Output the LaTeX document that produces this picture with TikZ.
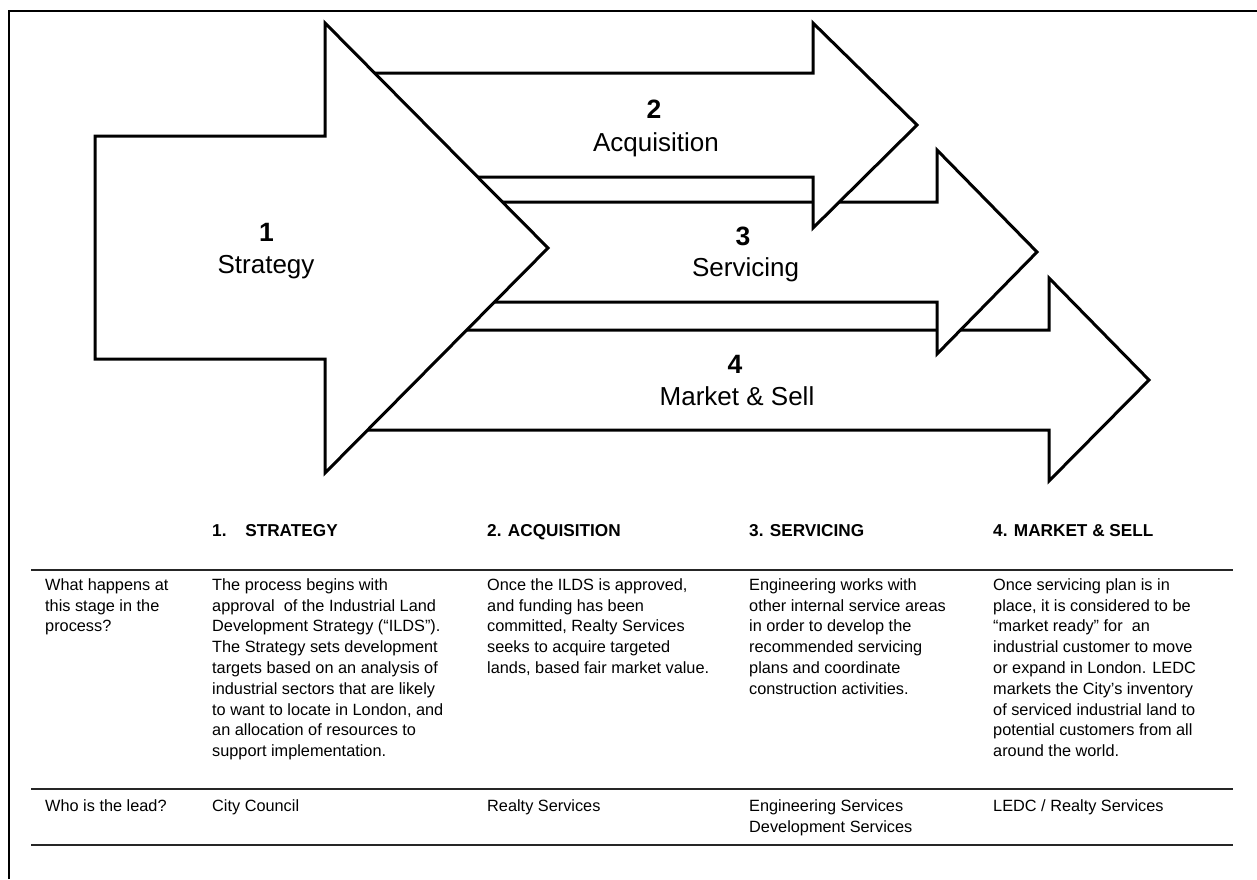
\documentclass[tikz,border=0pt]{standalone}
\usepackage{fontspec}
\setmainfont{Liberation Sans}
\begin{document}
\begin{tikzpicture}[x=1pt,y=-1pt,
  stage/.style={draw=black, line width=3pt, fill=white, line join=miter},
  numlabel/.style={font=\fontsize{26.5}{32}\selectfont\bfseries, anchor=base, inner sep=0pt},
  namelabel/.style={font=\fontsize{26}{32}\selectfont, anchor=base, inner sep=0pt},
  headcell/.style={font=\fontsize{17.2}{20.8}\selectfont\bfseries, anchor=base west, inner sep=0pt},
  cell/.style={font=\fontsize{16.3}{20.8}\selectfont, align=left, anchor=north west, inner sep=0pt},
  tablerule/.style={line width=1.6pt, draw=black!85},
  frameline/.style={line width=2pt, draw=black}
]
\useasboundingbox (0,0) rectangle (1257,879);

% outer frame (left and top edges)
\draw[frameline] (9,879) -- (9,10.5) -- (1257,10.5);

% stage arrows, back to front
% 4 Market & Sell
\draw[stage] (340,330) -- (1049,330) -- (1049,278) -- (1149,380)
  -- (1049,481) -- (1049,430) -- (340,430) -- cycle;
% 3 Servicing
\draw[stage] (340,202) -- (937,202) -- (937,150) -- (1037,252)
  -- (937,354) -- (937,302) -- (340,302) -- cycle;
% 2 Acquisition
\draw[stage] (340,73) -- (813,73) -- (813,23) -- (917,125)
  -- (813,228) -- (813,177) -- (340,177) -- cycle;
% 1 Strategy
\draw[stage] (95,136) -- (325,136) -- (325,23) -- (548,248)
  -- (325,473) -- (325,359) -- (95,359) -- cycle;

% arrow labels
\node[numlabel]  (n1) at (266.5,241) {1};
\node[namelabel] (s1) at (266,273) {Strategy};
\node[numlabel]  (n2) at (654,118) {2};
\node[namelabel] (s2) at (656,151) {Acquisition};
\node[numlabel]  (n3) at (743,245) {3};
\node[namelabel] (s3) at (745.5,276.5) {Servicing};
\node[numlabel]  (n4) at (735,373) {4};
\node[namelabel] (s4) at (737,405.5) {Market \& Sell};

% table header
\node[headcell] (h1) at (212,536) {1.\hspace{18.8pt}STRATEGY};
\node[headcell] (h2) at (487,536) {2. ACQUISITION};
\node[headcell] (h3) at (749,536) {3. SERVICING};
\node[headcell] (h4) at (993,536) {4. MARKET \& SELL};

% table rules
\draw[tablerule] (31,570) -- (1233,570);
\draw[tablerule] (31,789) -- (1233,789);
\draw[tablerule] (31,845) -- (1233,845);

% row: what happens
\node[cell] (q1) at (45,578) {\rule{0pt}{12pt}What happens at\\this stage in the\\process?};
\node[cell] (c1) at (212,578) {\rule{0pt}{12pt}The process begins with\\
approval\ \ of the Industrial Land\\
Development Strategy (“ILDS”).\\
The Strategy sets development\\
targets based on an analysis of\\
industrial sectors that are likely\\
to want to locate in London, and\\
an allocation of resources to\\
support implementation.};
\node[cell] (c2) at (487,578) {\rule{0pt}{12pt}Once the ILDS is approved,\\
and funding has been\\
committed, Realty Services\\
seeks to acquire targeted\\
lands, based fair market value.};
\node[cell] (c3) at (749,578) {\rule{0pt}{12pt}Engineering works with\\
other internal service areas\\
in order to develop the\\
recommended servicing\\
plans and coordinate\\
construction activities.};
\node[cell] (c4) at (993,578) {\rule{0pt}{12pt}Once servicing plan is in\\
place, it is considered to be\\
“market ready” for\ \ an\\
industrial customer to move\\
or expand in London. LEDC\\
markets the City’s inventory\\
of serviced industrial land to\\
potential customers from all\\
around the world.};

% row: who leads
\node[cell] (q2) at (45,799.5) {\rule{0pt}{12pt}Who is the lead?};
\node[cell] (l1) at (212,799.5) {\rule{0pt}{12pt}City Council};
\node[cell] (l2) at (487,799.5) {\rule{0pt}{12pt}Realty Services};
\node[cell] (l3) at (749,799.5) {\rule{0pt}{12pt}Engineering Services\\Development Services};
\node[cell] (l4) at (993,799.5) {\rule{0pt}{12pt}LEDC / Realty Services};
\end{tikzpicture}
\end{document}
